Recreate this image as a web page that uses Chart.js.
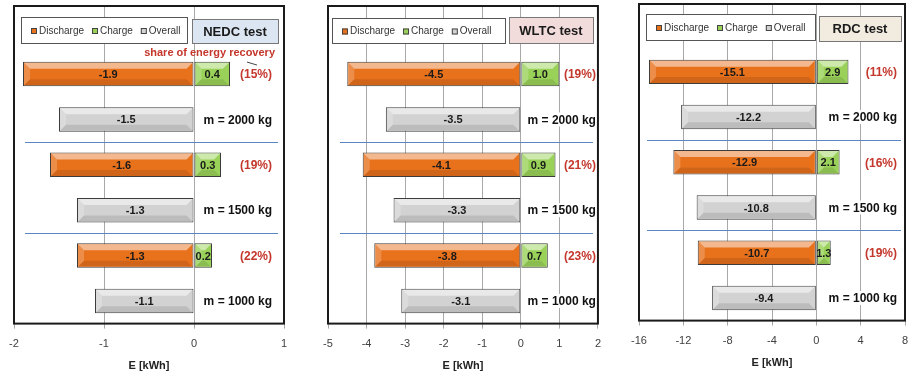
<!DOCTYPE html>
<html>
<head>
<meta charset="utf-8">
<script src="https://cdn.jsdelivr.net/npm/chart.js@4.4.0/dist/chart.umd.min.js"></script>
<style>
  html, body { margin: 0; padding: 0; background: #fff; }
  body { width: 919px; height: 374px; position: relative; overflow: hidden; }
  .panel { position: absolute; top: 0; }
</style>
</head>
<body>
<div class="panel" style="left:0px"><canvas id="nedc" width="300" height="374"></canvas></div>
<div class="panel" style="left:310px"><canvas id="wltc" width="300" height="374"></canvas></div>
<div class="panel" style="left:620px"><canvas id="rdc" width="299" height="374"></canvas></div>
<script>
// rows: legend slot, then discharge/charge row + overall row per mass
const rows = ['', 'dc2000', 'ov2000', 'dc1500', 'ov1500', 'dc1000', 'ov1000'];
const seriesNames = ['Discharge', 'Charge', 'Overall'];
const masses = ['m = 2000 kg', 'm = 1500 kg', 'm = 1000 kg'];

const nedcDischarge = [-1.9, -1.6, -1.3];
const nedcCharge = [0.4, 0.3, 0.2];
const nedcOverall = [-1.5, -1.3, -1.1];
const nedcShare = ['(15%)', '(19%)', '(22%)'];

const wltcDischarge = [-4.5, -4.1, -3.8];
const wltcCharge = [1.0, 0.9, 0.7];
const wltcOverall = [-3.5, -3.3, -3.1];
const wltcShare = ['(19%)', '(21%)', '(23%)'];

const rdcDischarge = [-15.1, -12.9, -10.7];
const rdcCharge = [2.9, 2.1, 1.3];
const rdcOverall = [-12.2, -10.8, -9.4];
const rdcShare = ['(11%)', '(16%)', '(19%)'];

const FONT = "'Liberation Sans', Arial, sans-serif";
const colors = ['#e8711c', '#9ad259', '#d2d2d2'];
const shareColor = '#c4372c';

// draws the bevel, frame, legend, separators and text labels
const decoPlugin = {
  id: 'deco',
  afterDatasetsDraw(chart, args, o) {
    const ctx = chart.ctx;
    const ca = chart.chartArea;
    const ys = chart.scales.y;

    // bevel on bars
    chart.data.datasets.forEach((ds, di) => {
      chart.getDatasetMeta(di).data.forEach((el, i) => {
        if (ds.data[i] == null) return;
        const p = el.getProps(['x', 'y', 'base', 'height'], true);
        const l = Math.min(p.x, p.base) + 1, r = Math.max(p.x, p.base) - 1;
        const t = p.y - p.height / 2 + 1, b = p.y + p.height / 2 - 1;
        const bv = Math.min(6, (r - l) / 2);
        ctx.save();
        ctx.fillStyle = 'rgba(255,255,255,0.5)';
        ctx.beginPath();
        ctx.moveTo(l, t); ctx.lineTo(r, t); ctx.lineTo(r - bv, t + bv); ctx.lineTo(l + bv, t + bv);
        ctx.closePath(); ctx.fill();
        ctx.fillStyle = 'rgba(255,255,255,0.2)';
        ctx.beginPath();
        ctx.moveTo(l, t); ctx.lineTo(l + bv, t + bv); ctx.lineTo(l + bv, b - bv); ctx.lineTo(l, b);
        ctx.closePath(); ctx.fill();
        ctx.fillStyle = 'rgba(0,0,0,0.10)';
        ctx.beginPath();
        ctx.moveTo(l, b); ctx.lineTo(r, b); ctx.lineTo(r - bv, b - bv); ctx.lineTo(l + bv, b - bv);
        ctx.closePath(); ctx.fill();
        ctx.restore();
      });
    });

    // blue separators between mass groups
    ctx.save();
    ctx.strokeStyle = '#5b86c2';
    ctx.lineWidth = 1;
    [2, 4].forEach(k => {
      const y = Math.round((ys.getPixelForValue(k) + ys.getPixelForValue(k + 1)) / 2) + 0.5;
      ctx.beginPath();
      ctx.moveTo(ca.left + o.sepL, y);
      ctx.lineTo(ca.right - o.sepR, y);
      ctx.stroke();
    });
    ctx.restore();

    // legend box
    ctx.save();
    const lb = o.legendBox;
    ctx.fillStyle = '#fff';
    ctx.fillRect(ca.left + lb.x, ca.top + lb.y, lb.w, lb.h);
    ctx.strokeStyle = '#555';
    ctx.lineWidth = 1;
    ctx.strokeRect(ca.left + lb.x + 0.5, ca.top + lb.y + 0.5, lb.w, lb.h);
    ctx.font = '10px ' + FONT;
    ctx.textBaseline = 'middle';
    let lx = ca.left + lb.x + 10;
    const ly = ca.top + lb.y + lb.h / 2 + 1;
    chart.data.datasets.forEach((ds, di) => {
      ctx.fillStyle = ds.backgroundColor;
      ctx.fillRect(lx, ly - 3, 6, 6);
      ctx.strokeStyle = '#444';
      ctx.strokeRect(lx + 0.5, ly - 2.5, 5, 5);
      lx += 8;
      ctx.fillStyle = '#333';
      ctx.textAlign = 'left';
      ctx.fillText(ds.label, lx, ly);
      lx += ctx.measureText(ds.label).width + 8;
    });

    // test name box
    const tb = o.titleBox;
    ctx.fillStyle = tb.fill;
    ctx.fillRect(ca.left + tb.x, ca.top + tb.y, tb.w, tb.h);
    ctx.strokeStyle = '#777';
    ctx.strokeRect(ca.left + tb.x + 0.5, ca.top + tb.y + 0.5, tb.w, tb.h);
    ctx.fillStyle = '#1a1a1a';
    ctx.font = 'bold 13px ' + FONT;
    ctx.textAlign = 'center';
    ctx.fillText(tb.text, ca.left + tb.x + tb.w / 2, ca.top + tb.y + tb.h / 2 + 1);
    ctx.restore();

    // values inside bars
    ctx.save();
    ctx.font = 'bold 11px ' + FONT;
    ctx.fillStyle = '#1a1a1a';
    ctx.textAlign = 'center';
    ctx.textBaseline = 'middle';
    chart.data.datasets.forEach((ds, di) => {
      chart.getDatasetMeta(di).data.forEach((el, i) => {
        const v = ds.data[i];
        if (v == null) return;
        const p = el.getProps(['x', 'y', 'base'], true);
        ctx.fillText(v.toFixed(1), (p.x + p.base) / 2, p.y + 1);
      });
    });
    ctx.restore();

    // right side labels (share of recovery / vehicle mass)
    ctx.save();
    ctx.font = 'bold 12px ' + FONT;
    ctx.textAlign = 'right';
    ctx.textBaseline = 'middle';
    const rx = ca.right - o.labelOff;
    const rightText = (txt, y, col) => {
      const w = ctx.measureText(txt).width;
      ctx.fillStyle = '#fff';
      ctx.fillRect(rx - w - 2, y - 7, w + 4, 14);
      ctx.fillStyle = col;
      ctx.fillText(txt, rx, y + 1);
    };
    o.share.forEach((s, k) => rightText(s, ys.getPixelForValue(1 + 2 * k), shareColor));
    masses.forEach((m, k) => rightText(m, ys.getPixelForValue(2 + 2 * k), '#111'));

    if (o.note) {
      const y1 = ys.getPixelForValue(1);
      ctx.font = 'bold 11px ' + FONT;
      ctx.fillStyle = shareColor;
      ctx.fillText(o.note, ca.right - 9, y1 - 21);
      ctx.strokeStyle = '#444';
      ctx.lineWidth = 1;
      ctx.beginPath();
      ctx.moveTo(ca.right - 37, y1 - 12);
      ctx.lineTo(ca.right - 27, y1 - 9);
      ctx.stroke();
    }
    ctx.restore();

    // plot frame
    ctx.save();
    ctx.strokeStyle = '#1a1a1a';
    ctx.lineWidth = 2;
    ctx.strokeRect(ca.left, ca.top, ca.right - ca.left, ca.bottom - ca.top);
    ctx.restore();
  }
};

function makeChart(id, d) {
  const discharge = [null], charge = [null], overall = [null];
  d.discharge.forEach((v, i) => {
    discharge.push(v, null);
    charge.push(d.charge[i], null);
    overall.push(null, d.overall[i]);
  });
  const common = {
    borderColor: '#3c3c3c', borderWidth: 1, borderSkipped: false,
    barPercentage: 1, categoryPercentage: 0.54
  };
  return new Chart(document.getElementById(id), {
    type: 'bar',
    data: {
      labels: rows,
      datasets: [
        Object.assign({ label: seriesNames[0], data: discharge, backgroundColor: colors[0] }, common),
        Object.assign({ label: seriesNames[1], data: charge, backgroundColor: colors[1] }, common),
        Object.assign({ label: seriesNames[2], data: overall, backgroundColor: colors[2] }, common)
      ]
    },
    options: {
      indexAxis: 'y',
      responsive: false,
      animation: false,
      layout: { padding: d.padding },
      plugins: {
        legend: { display: false },
        tooltip: { enabled: false },
        deco: d.deco
      },
      scales: {
        y: { display: false, stacked: true },
        x: {
          stacked: true,
          min: d.min, max: d.max,
          ticks: { stepSize: d.step, color: '#404040', font: { family: FONT, size: 11 }, padding: 9, maxRotation: 0 },
          grid: { color: '#a8a8a8', tickLength: 5 },
          border: { display: false },
          title: { display: true, text: 'E [kWh]', color: '#222', font: { family: FONT, size: 11, weight: 'bold' }, padding: { top: 0, bottom: 0 } }
        }
      }
    },
    plugins: [decoPlugin]
  });
}

makeChart('nedc', {
  discharge: nedcDischarge, charge: nedcCharge, overall: nedcOverall,
  min: -2, max: 1, step: 1,
  padding: { left: 14, right: 16, top: 6, bottom: 1 },
  deco: {
    share: nedcShare, labelOff: 12, sepL: 11, sepR: 6,
    note: 'share of energy recovery',
    legendBox: { x: 7, y: 11, w: 166, h: 26 },
    titleBox: { x: 178, y: 13, w: 86, h: 24, fill: '#dce6f2', text: 'NEDC test' }
  }
});

makeChart('wltc', {
  discharge: wltcDischarge, charge: wltcCharge, overall: wltcOverall,
  min: -5, max: 2, step: 1,
  padding: { left: 18, right: 12, top: 6, bottom: 1 },
  deco: {
    share: wltcShare, labelOff: 2, sepL: 12, sepR: 5,
    legendBox: { x: 4, y: 12, w: 173, h: 25 },
    titleBox: { x: 181, y: 11, w: 84, h: 26, fill: '#f2dcdb', text: 'WLTC test' }
  }
});

makeChart('rdc', {
  discharge: rdcDischarge, charge: rdcCharge, overall: rdcOverall,
  min: -16, max: 8, step: 4,
  padding: { left: 19, right: 14, top: 4, bottom: 4 },
  deco: {
    share: rdcShare, labelOff: 8, sepL: 8, sepR: 4,
    legendBox: { x: 7, y: 10, w: 169, h: 26 },
    titleBox: { x: 180, y: 12, w: 82, h: 25, fill: '#f1ebe0', text: 'RDC test' }
  }
});
</script>
</body>
</html>
